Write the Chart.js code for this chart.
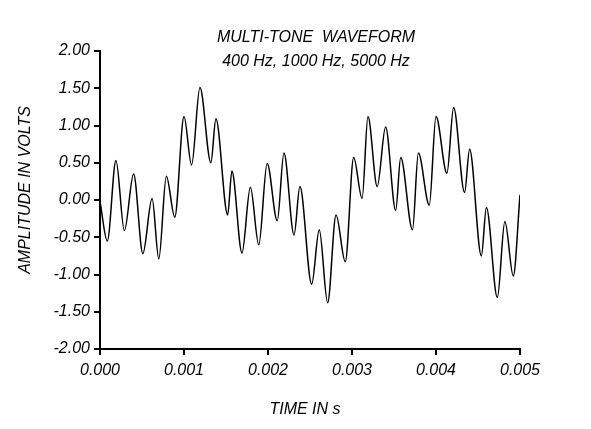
<!DOCTYPE html>
<html><head><meta charset="utf-8">
<script src="https://cdn.jsdelivr.net/npm/chart.js@4"></script>
<style>html,body{margin:0;background:#fff}#w{width:591px;height:429px}</style>
</head><body><div id="w"><canvas id="c"></canvas></div>
<script>
const timeS = [0,0.000087,0.00019,0.00029,0.0004,0.00051,0.00062,0.0007,0.00079,0.00089,0.001,0.00109,0.00119,0.00132,0.00138,0.00152,0.00157,0.00169,0.00179,0.00189,0.00199,0.00211,0.00219,0.00231,0.00238,0.00252,0.00261,0.00271,0.00281,0.00292,0.00302,0.00312,0.00319,0.0033,0.0034,0.00352,0.00358,0.00372,0.00379,0.00392,0.004,0.00413,0.00421,0.00434,0.0044,0.00454,0.0046,0.00473,0.00482,0.00492,0.005];
const volts = [-0.02,-0.55,0.53,-0.41,0.35,-0.72,0.02,-0.79,0.32,-0.23,1.12,0.47,1.51,0.5,1.09,-0.2,0.39,-0.71,0.17,-0.6,0.49,-0.28,0.63,-0.47,0.18,-1.13,-0.4,-1.38,-0.2,-0.83,0.57,0.02,1.12,0.18,0.98,-0.14,0.57,-0.4,0.63,-0.07,1.12,0.36,1.24,0.1,0.68,-0.75,-0.1,-1.31,-0.29,-1.02,0.07];
const titleLines = ["MULTI-TONE  WAVEFORM","400 Hz, 1000 Hz, 5000 Hz"];
const xTitle = "TIME IN s", yTitle = "AMPLITUDE IN VOLTS";
const F = "italic 16px 'Liberation Sans', Arial, sans-serif";
const textPlugin = {id:'txt', afterDraw(ch){
  const c=ch.ctx; c.save(); c.fillStyle='#000'; c.font=F; c.textAlign='center'; c.textBaseline='middle';
  c.fillText(titleLines[0],316,38); c.fillText(titleLines[1],316,62);
  c.fillText(xTitle,305,410);
  c.translate(26,190); c.rotate(-Math.PI/2); c.fillText(yTitle,0,0); c.restore();
}};
new Chart(document.getElementById('c'),{
  type:'line',
  data:{datasets:[{data:timeS.map((t,i)=>({x:t,y:volts[i]})),borderColor:'#000',borderWidth:1.5,pointRadius:0,cubicInterpolationMode:'monotone',fill:false}]},
  options:{responsive:true,maintainAspectRatio:false,animation:false,
    layout:{padding:{top:51,right:71,left:0,bottom:0}},
    plugins:{legend:{display:false},tooltip:{enabled:false}},
    scales:{
      x:{type:'linear',min:0,max:0.005,afterFit(s){s.height=80;},
        border:{color:'#000',width:2},
        grid:{drawOnChartArea:false,tickLength:6,color:'#000',lineWidth:2},
        ticks:{stepSize:0.001,color:'#000',font:{family:"'Liberation Sans', Arial",style:'italic',size:16},padding:6,callback:v=>v.toFixed(3),maxRotation:0}},
      y:{min:-2,max:2,afterFit(s){s.width=100;},
        border:{color:'#000',width:2},
        grid:{drawOnChartArea:false,tickLength:6,color:'#000',lineWidth:2},
        ticks:{stepSize:0.5,color:'#000',font:{family:"'Liberation Sans', Arial",style:'italic',size:16},padding:4,callback:v=>v.toFixed(2)}}
    }},
  plugins:[textPlugin]
});
</script></body></html>
